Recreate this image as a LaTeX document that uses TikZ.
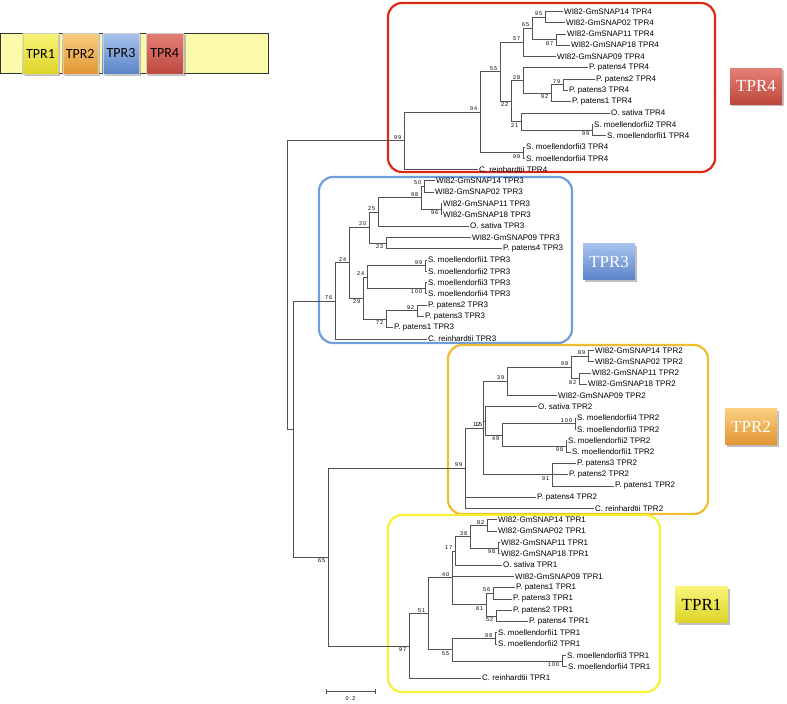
\documentclass[tikz,border=0pt]{standalone}
\usepackage{fontspec}
\usetikzlibrary{shadows}
\newfontfamily\leaffont{Liberation Sans}
\newfontfamily\bootfont[LetterSpace=20]{Liberation Sans}
\newfontfamily\tagfont{Liberation Serif}
\newfontfamily\barfont{Carlito}
\definecolor{boxred}{RGB}{222,40,22}
\definecolor{boxblue}{RGB}{112,157,222}
\definecolor{boxorange}{RGB}{240,188,48}
\definecolor{boxyellow}{RGB}{248,240,52}
\definecolor{barfill}{RGB}{251,249,170}
\definecolor{redtop}{RGB}{228,128,118}
\definecolor{redbot}{RGB}{190,72,62}
\definecolor{bluetop}{RGB}{168,196,238}
\definecolor{bluebot}{RGB}{92,132,200}
\definecolor{orangetop}{RGB}{250,206,128}
\definecolor{orangebot}{RGB}{226,150,52}
\definecolor{yellowtop}{RGB}{248,244,120}
\definecolor{yellowbot}{RGB}{222,212,40}

\begin{document}
\begin{tikzpicture}[x=1pt,y=-1pt,
    branch/.style={black!68,line width=0.7pt},
    leaf/.style={anchor=west,inner sep=1.5pt,font=\leaffont\fontsize{8}{8}\selectfont},
    bu/.style={anchor=south east,inner sep=0pt,xshift=-2.5pt,yshift=1.2pt,font=\bootfont\fontsize{5.5}{5.5}\selectfont},
    bd/.style={anchor=north east,inner sep=0pt,xshift=-2.5pt,yshift=-1.5pt,font=\bootfont\fontsize{5.5}{5.5}\selectfont},
    clade/.style={rounded corners=14pt,line width=2.2pt},
    tag/.style={minimum width=52pt,minimum height=36pt,inner sep=0pt,drop shadow,font=\tagfont\fontsize{17}{17}\selectfont},
    dom/.style={minimum height=41pt,inner sep=0pt,draw=black!20,drop shadow,font=\barfont\fontsize{14}{14}\selectfont}]
    \useasboundingbox (0,0) rectangle (787,704);

    % domain bar
    \node[draw=black!80,line width=0.8pt,fill=barfill,minimum width=268pt,minimum height=40pt,inner sep=0pt] (bar) at (134,53) {};
    \node[dom,minimum width=35.6pt,top color=yellowtop,bottom color=yellowbot] (dom1) at (40.5,53.5) {TPR1};
    \node[dom,minimum width=35pt,top color=orangetop,bottom color=orangebot] (dom2) at (80.2,53.5) {TPR2};
    \node[dom,minimum width=36.6pt,top color=bluetop,bottom color=bluebot] (dom3) at (121,53.5) {TPR3};
    \node[dom,minimum width=37.3pt,top color=redtop,bottom color=redbot] (dom4) at (164.7,53.5) {TPR4};

    % clade frames
    \draw[clade,boxred]    (388,3)   rectangle (715,172);
    \draw[clade,boxblue]   (319,177) rectangle (572,343);
    \draw[clade,boxorange] (448,345) rectangle (708,514);
    \draw[clade,boxyellow] (388,515) rectangle (660,692);

    \node[tag,text=white,top color=redtop,bottom color=redbot] (tag4) at (756,86) {TPR4};
    \node[tag,text=white,top color=bluetop,bottom color=bluebot] (tag3) at (609,261.5) {TPR3};
    \node[tag,text=white,top color=orangetop,bottom color=orangebot] (tag2) at (751,426.5) {TPR2};
    \node[tag,text=black,top color=yellowtop,bottom color=yellowbot] (tag1) at (701.5,604.5) {TPR1};

    % TPR4 clade
    \node[leaf] (d4p14) at (562.5,11.3)  {WI82-GmSNAP14 TPR4};
    \node[leaf] (d4p02) at (564.5,22.6)  {WI82-GmSNAP02 TPR4};
    \node[leaf] (d4p11) at (565.5,33.9)  {WI82-GmSNAP11 TPR4};
    \node[leaf] (d4p18) at (569.5,45.2)  {WI82-GmSNAP18 TPR4};
    \node[leaf] (d4p09) at (555.5,56.5)  {WI82-GmSNAP09 TPR4};
    \node[leaf] (d4pp4) at (587.5,67.8)  {P. patens4 TPR4};
    \node[leaf] (d4pp2) at (594.5,79.1)  {P. patens2 TPR4};
    \node[leaf] (d4pp3) at (567.5,90.4)  {P. patens3 TPR4};
    \node[leaf] (d4pp1) at (570.5,101.7) {P. patens1 TPR4};
    \node[leaf] (d4os)  at (609.5,113)   {O. sativa TPR4};
    \node[leaf] (d4sm2) at (592.5,124.3) {S. moellendorfii2 TPR4};
    \node[leaf] (d4sm1) at (605.5,135.6) {S. moellendorfii1 TPR4};
    \node[leaf] (d4sm3) at (524.5,146.9) {S. moellendorfii3 TPR4};
    \node[leaf] (d4sm4) at (524.5,158.2) {S. moellendorfii4 TPR4};
    \node[leaf] (d4cr)  at (477.5,169.5) {C. reinhardtii TPR4};

    \coordinate (d4n95)  at (545,16.95);
    \coordinate (d4n87)  at (556,39.55);
    \coordinate (d4n65)  at (532,28.25);
    \coordinate (d4n57)  at (523,42.4);
    \coordinate (d4n79)  at (563,84.75);
    \coordinate (d4n92)  at (551,93.2);
    \coordinate (d4n28)  at (523,80.5);
    \coordinate (d4n99a) at (592,129.95);
    \coordinate (d4n21)  at (521,121.5);
    \coordinate (d4n22)  at (511,101);
    \coordinate (d4n55)  at (500,71.7);
    \coordinate (d4n99b) at (523,152.55);
    \coordinate (d4n94)  at (480,112.1);
    \coordinate (d4n99)  at (404,140.8);

    \draw[branch] (d4n95) |- (d4p14.west) (d4n95) |- (d4p02.west)
        (d4n87) |- (d4p11.west) (d4n87) |- (d4p18.west)
        (d4n65) |- (d4n95) (d4n65) |- (d4n87)
        (d4n57) |- (d4n65) (d4n57) |- (d4p09.west)
        (d4n79) |- (d4pp2.west) (d4n79) |- (d4pp3.west)
        (d4n92) |- (d4n79) (d4n92) |- (d4pp1.west)
        (d4n28) |- (d4pp4.west) (d4n28) |- (d4n92)
        (d4n99a) |- (d4sm2.west) (d4n99a) |- (d4sm1.west)
        (d4n21) |- (d4os.west) (d4n21) |- (d4n99a)
        (d4n22) |- (d4n28) (d4n22) |- (d4n21)
        (d4n55) |- (d4n57) (d4n55) |- (d4n22)
        (d4n99b) |- (d4sm3.west) (d4n99b) |- (d4sm4.west)
        (d4n94) |- (d4n55) (d4n94) |- (d4n99b)
        (d4n99) |- (d4n94) (d4n99) |- (d4cr.west);

    \node[bu] (b4n95)  at (d4n95)  {95};
    \node[bd] (b4n87)  at (d4n87)  {87};
    \node[bu] (b4n65)  at (d4n65)  {65};
    \node[bu] (b4n57)  at (d4n57)  {57};
    \node[bu] (b4n79)  at (d4n79)  {79};
    \node[bd] (b4n92)  at (d4n92)  {92};
    \node[bu] (b4n28)  at (d4n28)  {28};
    \node[bd] (b4n99a) at (d4n99a) {99};
    \node[bd] (b4n21)  at (d4n21)  {21};
    \node[bd] (b4n22)  at (d4n22)  {22};
    \node[bu] (b4n55)  at (d4n55)  {55};
    \node[bd] (b4n99b) at (d4n99b) {99};
    \node[bu] (b4n94)  at (d4n94)  {94};
    \node[bu] (b4n99)  at (d4n99)  {99};

    % TPR3 clade
    \node[leaf] (d3p14) at (434.5,180.8) {WI82-GmSNAP14 TPR3};
    \node[leaf] (d3p02) at (433.5,192.1) {WI82-GmSNAP02 TPR3};
    \node[leaf] (d3p11) at (441.5,203.4) {WI82-GmSNAP11 TPR3};
    \node[leaf] (d3p18) at (441.5,214.7) {WI82-GmSNAP18 TPR3};
    \node[leaf] (d3os)  at (468.5,226)   {O. sativa TPR3};
    \node[leaf] (d3p09) at (470.5,237.3) {WI82-GmSNAP09 TPR3};
    \node[leaf] (d3pp4) at (501.5,248.6) {P. patens4 TPR3};
    \node[leaf] (d3sm1) at (426.5,259.9) {S. moellendorfii1 TPR3};
    \node[leaf] (d3sm2) at (426.5,271.2) {S. moellendorfii2 TPR3};
    \node[leaf] (d3sm3) at (426.5,282.5) {S. moellendorfii3 TPR3};
    \node[leaf] (d3sm4) at (426.5,293.8) {S. moellendorfii4 TPR3};
    \node[leaf] (d3pp2) at (426.5,305.1) {P. patens2 TPR3};
    \node[leaf] (d3pp3) at (423.5,316.4) {P. patens3 TPR3};
    \node[leaf] (d3pp1) at (392.5,327.7) {P. patens1 TPR3};
    \node[leaf] (d3cr)  at (426.5,339)   {C. reinhardtii TPR3};

    \coordinate (d3n50)  at (424,186.45);
    \coordinate (d3n96)  at (441,209.05);
    \coordinate (d3n98)  at (421,197.75);
    \coordinate (d3n25)  at (378,211.9);
    \coordinate (d3n23)  at (386,242.95);
    \coordinate (d3n20)  at (369,227.4);
    \coordinate (d3n99)  at (425,265.55);
    \coordinate (d3n100) at (425,288.15);
    \coordinate (d3n24b) at (367,276.85);
    \coordinate (d3n92)  at (417,310.75);
    \coordinate (d3n72)  at (386,319.2);
    \coordinate (d3n29)  at (363,298);
    \coordinate (d3n24)  at (349,262.7);
    \coordinate (d3n76)  at (335,300.85);

    \draw[branch] (d3n50) |- (d3p14.west) (d3n50) |- (d3p02.west)
        (d3n96) |- (d3p11.west) (d3n96) |- (d3p18.west)
        (d3n98) |- (d3n50) (d3n98) |- (d3n96)
        (d3n25) |- (d3n98) (d3n25) |- (d3os.west)
        (d3n23) |- (d3p09.west) (d3n23) |- (d3pp4.west)
        (d3n20) |- (d3n25) (d3n20) |- (d3n23)
        (d3n99) |- (d3sm1.west) (d3n99) |- (d3sm2.west)
        (d3n100) |- (d3sm3.west) (d3n100) |- (d3sm4.west)
        (d3n24b) |- (d3n99) (d3n24b) |- (d3n100)
        (d3n92) |- (d3pp2.west) (d3n92) |- (d3pp3.west)
        (d3n72) |- (d3n92) (d3n72) |- (d3pp1.west)
        (d3n29) |- (d3n24b) (d3n29) |- (d3n72)
        (d3n24) |- (d3n20) (d3n24) |- (d3n29)
        (d3n76) |- (d3n24) (d3n76) |- (d3cr.west);

    \node[bu] (b3n50)  at (d3n50)  {50};
    \node[bd] (b3n96)  at (d3n96)  {96};
    \node[bu] (b3n98)  at (d3n98)  {98};
    \node[bu] (b3n25)  at (d3n25)  {25};
    \node[bd] (b3n23)  at (d3n23)  {23};
    \node[bu] (b3n20)  at (d3n20)  {20};
    \node[bu] (b3n99)  at (d3n99)  {99};
    \node[bd] (b3n100) at (d3n100) {100};
    \node[bu] (b3n24b) at (d3n24b) {24};
    \node[bu] (b3n92)  at (d3n92)  {92};
    \node[bd] (b3n72)  at (d3n72)  {72};
    \node[bd] (b3n29)  at (d3n29)  {29};
    \node[bu] (b3n24)  at (d3n24)  {24};
    \node[bu] (b3n76)  at (d3n76)  {76};

    % TPR2 clade
    \node[leaf] (d2p14) at (593.5,350.3) {WI82-GmSNAP14 TPR2};
    \node[leaf] (d2p02) at (593.5,361.6) {WI82-GmSNAP02 TPR2};
    \node[leaf] (d2p11) at (590.5,372.9) {WI82-GmSNAP11 TPR2};
    \node[leaf] (d2p18) at (586.5,384.2) {WI82-GmSNAP18 TPR2};
    \node[leaf] (d2p09) at (556.5,395.5) {WI82-GmSNAP09 TPR2};
    \node[leaf] (d2os)  at (536.5,406.8) {O. sativa TPR2};
    \node[leaf] (d2sm4) at (575.5,418.1) {S. moellendorfii4 TPR2};
    \node[leaf] (d2sm3) at (575.5,429.4) {S. moellendorfii3 TPR2};
    \node[leaf] (d2sm2) at (566.5,440.7) {S. moellendorfii2 TPR2};
    \node[leaf] (d2sm1) at (570.5,452)   {S. moellendorfii1 TPR2};
    \node[leaf] (d2pp3) at (575.5,463.3) {P. patens3 TPR2};
    \node[leaf] (d2pp2) at (567.5,474.6) {P. patens2 TPR2};
    \node[leaf] (d2pp1) at (613.5,485.9) {P. patens1 TPR2};
    \node[leaf] (d2pp4) at (535.5,497.2) {P. patens4 TPR2};
    \node[leaf] (d2cr)  at (593.5,508.5) {C. reinhardtii TPR2};

    \coordinate (d2n89)  at (588,355.95);
    \coordinate (d2n82)  at (579,378.55);
    \coordinate (d2n98)  at (571,367.25);
    \coordinate (d2n39)  at (507,381.4);
    \coordinate (d2n100) at (575,423.75);
    \coordinate (d2n98b) at (566,446.35);
    \coordinate (d2n49)  at (502,435.05);
    \coordinate (d2n15)  at (485,420.9);
    \coordinate (d2n91)  at (552,474.6);
    \coordinate (d2n12)  at (483,428);
    \coordinate (d2n99)  at (465,468.25);

    \draw[branch] (d2n89) |- (d2p14.west) (d2n89) |- (d2p02.west)
        (d2n82) |- (d2p11.west) (d2n82) |- (d2p18.west)
        (d2n98) |- (d2n89) (d2n98) |- (d2n82)
        (d2n39) |- (d2n98) (d2n39) |- (d2p09.west)
        (d2n100) |- (d2sm4.west) (d2n100) |- (d2sm3.west)
        (d2n98b) |- (d2sm2.west) (d2n98b) |- (d2sm1.west)
        (d2n49) |- (d2n100) (d2n49) |- (d2n98b)
        (d2n15) |- (d2os.west) (d2n15) |- (d2n49)
        (d2n91) |- (d2pp3.west) (d2n91) |- (d2pp2.west) (d2n91) |- (d2pp1.west)
        (d2n12) |- (d2n39) (d2n12) |- (d2n15) (d2n12) |- (d2n91)
        (d2n99) |- (d2n12) (d2n99) |- (d2pp4.west) (d2n99) |- (d2cr.west);

    \node[bu] (b2n89)  at (d2n89)  {89};
    \node[bd] (b2n82)  at (d2n82)  {82};
    \node[bu] (b2n98)  at (d2n98)  {98};
    \node[bu] (b2n39)  at (d2n39)  {39};
    \node[bu] (b2n100) at (d2n100) {100};
    \node[bd] (b2n98b) at (d2n98b) {98};
    \node[bd] (b2n49)  at (d2n49)  {49};
    \node[bd] (b2n15)  at (d2n15)  {15};
    \node[bu] (b2n12)  at (d2n12)  {12};
    \node[bd] (b2n91)  at (d2n91)  {91};
    \node[bu] (b2n99)  at (d2n99)  {99};

    % TPR1 clade
    \node[leaf] (d1p14) at (496.5,519.8) {WI82-GmSNAP14 TPR1};
    \node[leaf] (d1p02) at (496.5,531.1) {WI82-GmSNAP02 TPR1};
    \node[leaf] (d1p11) at (499.5,542.4) {WI82-GmSNAP11 TPR1};
    \node[leaf] (d1p18) at (499.5,553.7) {WI82-GmSNAP18 TPR1};
    \node[leaf] (d1os)  at (501.5,565)   {O. sativa TPR1};
    \node[leaf] (d1p09) at (513.5,576.3) {WI82-GmSNAP09 TPR1};
    \node[leaf] (d1pp1) at (514.5,587.6) {P. patens1 TPR1};
    \node[leaf] (d1pp3) at (511.5,598.9) {P. patens3 TPR1};
    \node[leaf] (d1pp2) at (511.5,610.2) {P. patens2 TPR1};
    \node[leaf] (d1pp4) at (527.5,621.5) {P. patens4 TPR1};
    \node[leaf] (d1sm1) at (496.5,632.8) {S. moellendorfii1 TPR1};
    \node[leaf] (d1sm2) at (496.5,644.1) {S. moellendorfii2 TPR1};
    \node[leaf] (d1sm3) at (565.5,655.4) {S. moellendorfii3 TPR1};
    \node[leaf] (d1sm4) at (566.5,666.7) {S. moellendorfii4 TPR1};
    \node[leaf] (d1cr)  at (480.5,678)   {C. reinhardtii TPR1};

    \coordinate (d1n82)  at (487,525.45);
    \coordinate (d1n98)  at (498,548.05);
    \coordinate (d1n38)  at (470,536.75);
    \coordinate (d1n17)  at (455,550.9);
    \coordinate (d1n56)  at (493,593.25);
    \coordinate (d1n52)  at (496,615.85);
    \coordinate (d1n81)  at (486,604.55);
    \coordinate (d1n40)  at (452,577.7);
    \coordinate (d1n98b) at (495,638.45);
    \coordinate (d1n100) at (562,661.05);
    \coordinate (d1n55)  at (452,649.75);
    \coordinate (d1n51)  at (428,613.7);
    \coordinate (d1n97)  at (409,645.85);

    \draw[branch] (d1n82) |- (d1p14.west) (d1n82) |- (d1p02.west)
        (d1n98) |- (d1p11.west) (d1n98) |- (d1p18.west)
        (d1n38) |- (d1n82) (d1n38) |- (d1n98)
        (d1n17) |- (d1n38) (d1n17) |- (d1os.west)
        (d1n56) |- (d1pp1.west) (d1n56) |- (d1pp3.west)
        (d1n52) |- (d1pp2.west) (d1n52) |- (d1pp4.west)
        (d1n81) |- (d1n56) (d1n81) |- (d1n52)
        (d1n40) |- (d1n17) (d1n40) |- (d1p09.west) (d1n40) |- (d1n81)
        (d1n98b) |- (d1sm1.west) (d1n98b) |- (d1sm2.west)
        (d1n100) |- (d1sm3.west) (d1n100) |- (d1sm4.west)
        (d1n55) |- (d1n98b) (d1n55) |- (d1n100)
        (d1n51) |- (d1n40) (d1n51) |- (d1n55)
        (d1n97) |- (d1n51) (d1n97) |- (d1cr.west);

    \node[bu] (b1n82)  at (d1n82)  {82};
    \node[bd] (b1n98)  at (d1n98)  {98};
    \node[bu] (b1n38)  at (d1n38)  {38};
    \node[bu] (b1n17)  at (d1n17)  {17};
    \node[bu] (b1n56)  at (d1n56)  {56};
    \node[bd] (b1n52)  at (d1n52)  {52};
    \node[bd] (b1n81)  at (d1n81)  {81};
    \node[bu] (b1n40)  at (d1n40)  {40};
    \node[bu] (b1n98b) at (d1n98b) {98};
    \node[bd] (b1n100) at (d1n100) {100};
    \node[bd] (b1n55)  at (d1n55)  {55};
    \node[bu] (b1n51)  at (d1n51)  {51};
    \node[bd] (b1n97)  at (d1n97)  {97};

    % backbone
    \coordinate (n65)  at (328,557.05);
    \coordinate (nmid) at (293,428.95);
    \coordinate (root) at (287,284.9);
    \draw[branch] (n65) |- (d2n99) (n65) |- (d1n97)
        (nmid) |- (d3n76) (nmid) |- (n65)
        (root) |- (d4n99) (root) |- (nmid);
    \node[bd] (bn65) at (n65) {65};

    % scale
    \coordinate (sb1) at (326,691);
    \coordinate (sb2) at (375,691);
    \draw[branch] (sb1) -- (sb2) ([yshift=2.5pt]sb1) -- ([yshift=-2.5pt]sb1) ([yshift=2.5pt]sb2) -- ([yshift=-2.5pt]sb2);
    \node[font=\bootfont\fontsize{5.5}{5.5}\selectfont,inner sep=0pt,anchor=north] (sbl) at (350.5,696) {0.2};
\end{tikzpicture}
\end{document}
